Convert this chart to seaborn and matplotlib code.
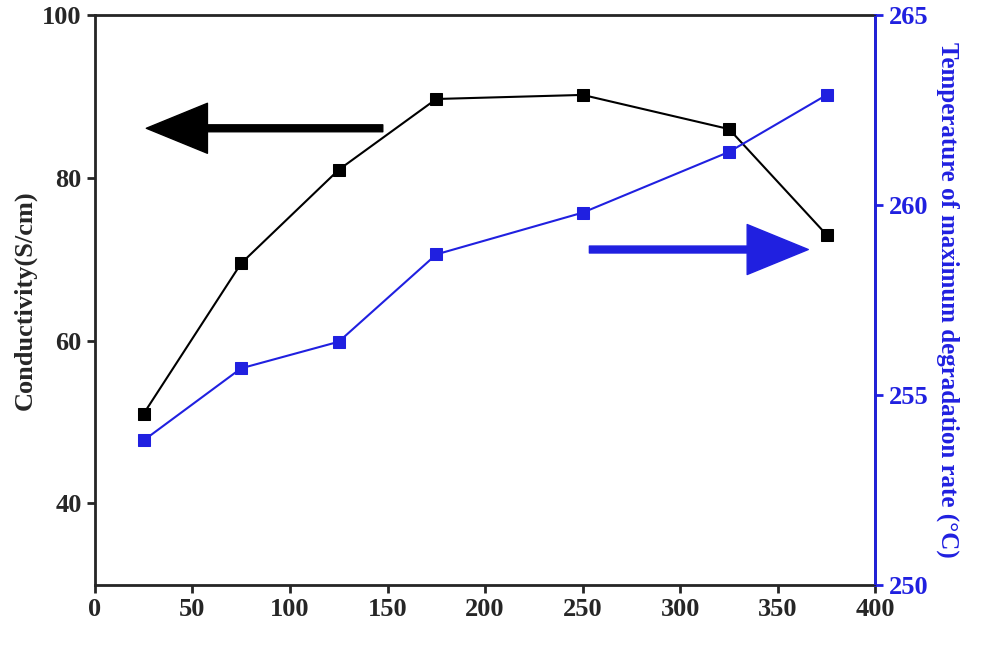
import matplotlib
matplotlib.use("Agg")
import matplotlib.pyplot as plt
import pandas as pd
import seaborn as sns

temps = [25, 75, 125, 175, 250, 325, 375]
conductivity = [51, 69.5, 81, 89.7, 90.2, 86, 73]
deg_temp = [253.8, 255.7, 256.4, 258.7, 259.8, 261.4, 262.9]

df = pd.DataFrame({"t": temps, "cond": conductivity, "deg": deg_temp})

sns.set_style("ticks")
plt.rcParams["font.family"] = "Liberation Serif"
plt.rcParams["font.weight"] = "bold"

fig, ax = plt.subplots(figsize=(9.87, 6.6), dpi=100)
fig.subplots_adjust(left=0.096, right=0.887, top=0.977, bottom=0.114)
ax2 = ax.twinx()

sns.lineplot(data=df, x="t", y="cond", ax=ax, color="black", marker="s",
             markersize=8, linewidth=1.5, markeredgecolor="black")
sns.lineplot(data=df, x="t", y="deg", ax=ax2, color="#2020e0", marker="s",
             markersize=8, linewidth=1.5, markeredgecolor="#2020e0")

ax.set_xlim(0, 400)
ax.set_ylim(30, 100)
ax2.set_ylim(250, 265)
ax.set_xticks(range(0, 401, 50))
ax.set_yticks([40, 60, 80, 100])
ax2.set_yticks([250, 255, 260, 265])
ax.set_xlabel("")
ax.set_ylabel("Conductivity(S/cm)", fontsize=19, fontweight="bold")
ax2.set_ylabel("Temperature of maximum degradation rate (°C)", fontsize=18,
               fontweight="bold", color="#2020e0", rotation=270, labelpad=22)
ax.tick_params(labelsize=19, width=2, length=6)
ax2.tick_params(labelsize=19, width=2, length=6, colors="#2020e0")
for s in ax.spines.values():
    s.set_linewidth(2)
ax2.spines["right"].set_color("#2020e0")
ax2.spines["right"].set_linewidth(2)
for lab in ax.get_xticklabels() + ax.get_yticklabels() + ax2.get_yticklabels():
    lab.set_fontweight("bold")

style = "simple,head_length=2.2,head_width=1.8,tail_width=0.25"
ax.annotate("", xy=(25, 86.1), xytext=(149, 86.1),
            arrowprops=dict(arrowstyle=style, color="black", mutation_scale=20))
ax.annotate("", xy=(367, 71.2), xytext=(252, 71.2),
            arrowprops=dict(arrowstyle=style, color="#2020e0", mutation_scale=20))

fig.savefig("out.png", dpi=100)
